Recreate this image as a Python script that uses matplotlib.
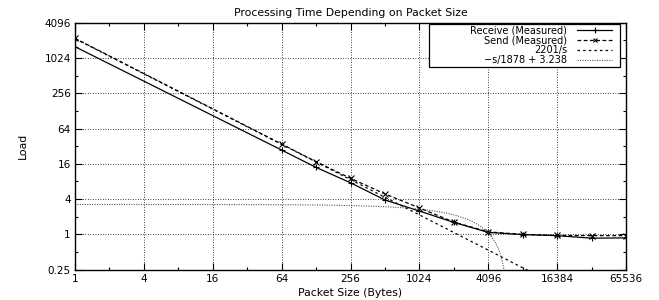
import numpy as np
import matplotlib
matplotlib.use("Agg")
import matplotlib.pyplot as plt
from matplotlib.patches import Rectangle
from matplotlib.ticker import FixedLocator, FixedFormatter, NullFormatter

plt.rcParams['font.family'] = ['DejaVu Sans']

sizes = [1, 64, 128, 256, 512, 1024, 2048, 4096, 8192, 16384, 32768, 65536]
receive = [1600, 27.5, 13.9, 7.6, 3.86, 2.5, 1.6, 1.08, 0.99, 0.95, 0.86, 0.87]
send = [2225, 34.8, 17.4, 9.06, 4.9, 2.83, 1.62, 1.1, 1.0, 0.96, 0.95, 0.95]

xticks = [1, 4, 16, 64, 256, 1024, 4096, 16384, 65536]
yticks = [0.25, 1, 4, 16, 64, 256, 1024, 4096]

fig = plt.figure(figsize=(6.59, 3.0), dpi=100)
ax = fig.add_axes([0.1138, 0.1013, 0.8362, 0.8227])

ax.plot(sizes, receive, '-', color='black', lw=0.9, marker='+', ms=5, mew=0.8,
        label='Receive (Measured)')
ax.plot(sizes, send, '--', color='black', lw=0.9, marker='x', ms=4, mew=0.8,
        dashes=(3, 2), label='Send (Measured)')

# fitted curves
s = np.logspace(0, 16, 800, base=2)
ax.plot(s, 2201 / s, color='black', lw=0.9, dashes=(2, 2.5), label='2201/s')
s2 = np.logspace(0, np.log2(6080), 800, base=2)
ax.plot(s2, -s2 / 1878 + 3.238, color='#555555', lw=0.8, dashes=(1, 1.2),
        label='\u2212s/1878 + 3.238')

ax.set_xscale('log', base=2)
ax.set_yscale('log', base=2)
ax.set_xlim(1, 65536)
ax.set_ylim(0.25, 4096)

ax.xaxis.set_major_locator(FixedLocator(xticks))
ax.xaxis.set_major_formatter(FixedFormatter([str(v) for v in xticks]))
ax.xaxis.set_minor_locator(FixedLocator([2 ** k for k in range(1, 16, 2)]))
ax.xaxis.set_minor_formatter(NullFormatter())
ax.yaxis.set_major_locator(FixedLocator(yticks))
ax.yaxis.set_major_formatter(FixedFormatter([str(v) for v in yticks]))
ax.yaxis.set_minor_locator(FixedLocator([2.0 ** k for k in range(-1, 12, 2)]))
ax.yaxis.set_minor_formatter(NullFormatter())

ax.tick_params(which='both', direction='in', top=True, right=True, labelsize=7.5,
               width=0.8)
ax.tick_params(which='major', length=5, pad=3)
ax.tick_params(which='minor', length=2.5)
ax.grid(True, which='major', color='black', ls=(0, (1, 2)), lw=0.6)
for sp in ax.spines.values():
    sp.set_linewidth(1.0)

ax.set_title('Processing Time Depending on Packet Size', fontsize=7.8, pad=5)
ax.set_xlabel('Packet Size (Bytes)', fontsize=7.8, labelpad=3)
ax.set_ylabel('Load', fontsize=7.8, labelpad=12)

# gnuplot-like key: text right-aligned, frame drawn around it afterwards
leg = ax.legend(loc='upper right', bbox_to_anchor=(0.9746, 0.99), fontsize=7,
                frameon=False, markerfirst=False, borderpad=0, borderaxespad=0,
                labelspacing=0.0, handlelength=3.6, handletextpad=1.0,
                markerscale=0.8)
leg.set_zorder(5)
for t in leg.get_texts():
    t.set_ha('right')
leg._legend_box.align = 'right'

fig.canvas.draw()
bb = leg.get_window_extent().transformed(ax.transAxes.inverted())
x0, x1 = 0.6425, 0.989
y0, y1 = bb.y0 - 0.008, 0.995
ax.add_patch(Rectangle((x0, y0), x1 - x0, y1 - y0, transform=ax.transAxes,
                       facecolor='white', edgecolor='black', lw=0.9, zorder=4))

fig.savefig('out.png', dpi=100)
